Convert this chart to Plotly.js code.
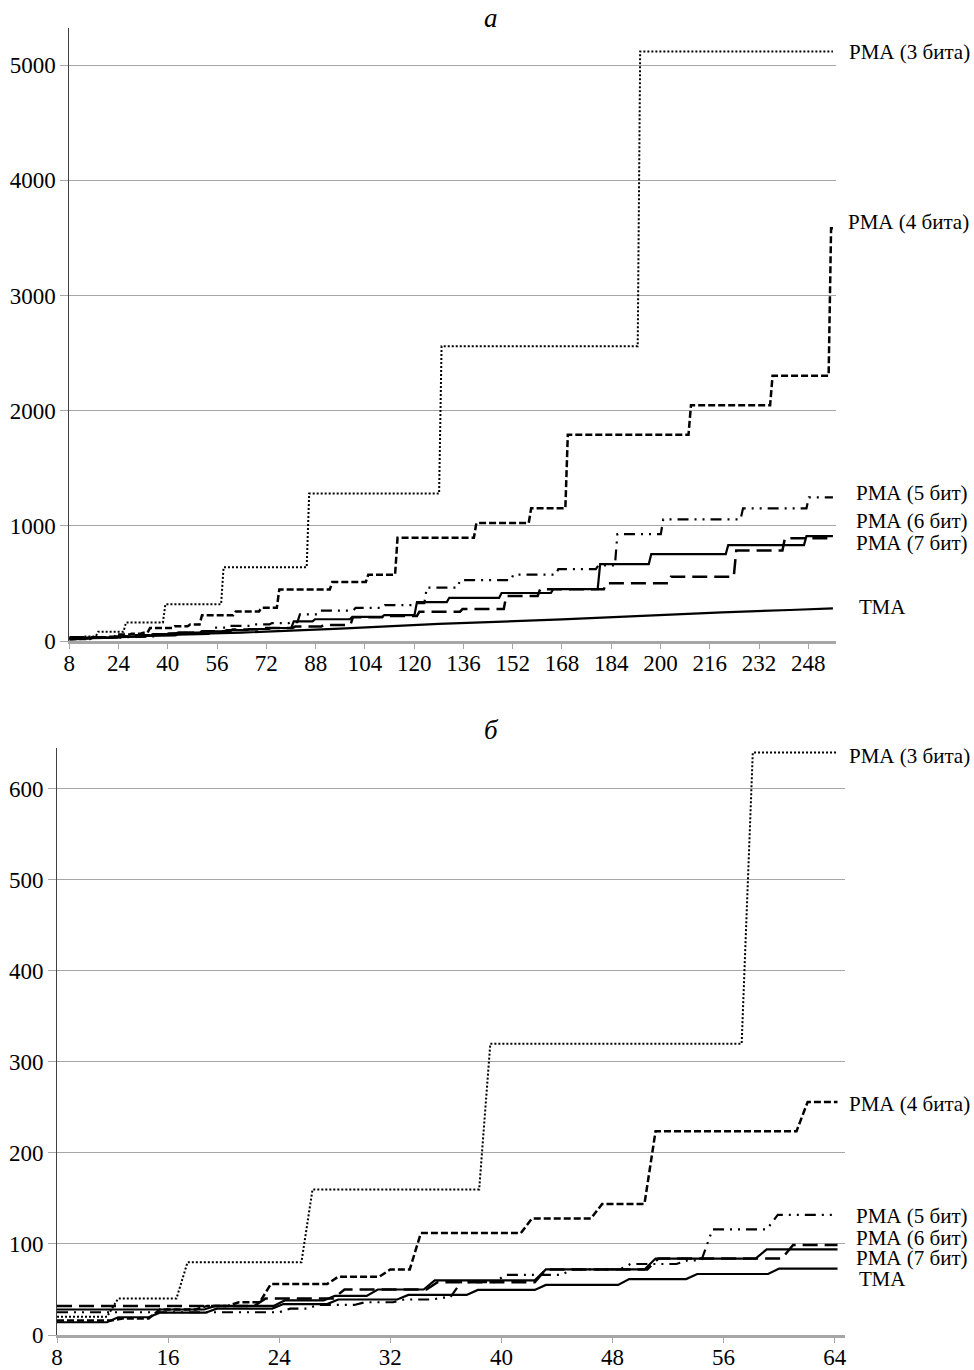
<!DOCTYPE html>
<html><head><meta charset="utf-8">
<script src="https://cdn.plot.ly/plotly-3.0.1.min.js"></script>
<style>body{margin:0;background:#fff}#chart{width:974px;height:1370px}</style>
</head><body><div id="chart"></div>
<script>
// ---- data (levels of each step and the x where the step rises) ----
const pma3Levels = [20, 40, 80, 160, 320, 640, 1280, 2560, 5120];
const pma3Rises  = [12, 17, 26, 38.8, 57.7, 85.5, 128.5, 193];

const pma4Levels = [16, 18, 28, 32, 36, 56, 64, 72, 112, 128, 144, 224, 256, 288, 448, 512, 576, 896, 1024, 1152, 1792, 2048, 2304, 3584];
const pma4Rises  = [12.3, 15, 18.4, 20.7, 23, 27.85, 31.6, 33.8, 41.8, 46.85, 50.7, 61.65, 70, 75.8, 93, 104.7, 114.2, 139.8, 157.6, 169.5, 209.5, 236, 255];

const pma5Levels = [25, 29, 33, 36, 39, 41, 58, 66, 72, 78, 82, 116, 132, 144, 156, 164, 232, 264, 288, 312, 328, 464, 528, 576, 624, 656, 928, 1056, 1152, 1248];
const pma5Rises  = [24.4, 26.4, 29.8, 32.6, 35.4, 36.7, 39.9, 44.7, 48.9, 53, 54.8, 59.5, 67.1, 73.4, 79.7, 82.5, 89.1, 100.6, 110.1, 119.6, 123.7, 134.5, 151.8, 166.4, 179.4, 185.6, 200.5, 226.4, 247.8];

const pma6Levels = [32, 40, 50, 58, 72, 84, 99, 112, 125, 139, 206, 218, 255, 277, 391, 449, 501, 559, 785, 893];
const pma6Rises  = [22.6, 28.3, 35, 42.8, 50.9, 60.6, 71, 80.9, 90.2, 99.7, 110, 121.3, 135.3, 149.5, 160.5, 182, 203, 224.2, 240];

const pma7Levels = [28, 32, 38, 43, 50, 60, 72, 84, 94, 104, 113, 170, 189, 210, 225, 338, 375, 417, 451, 668, 755, 833, 911];
const pma7Rises  = [19, 24, 27.6, 30.7, 34.8, 42.8, 50.7, 58.7, 66, 73.2, 80.5, 87.4, 99.5, 109.9, 120.5, 131, 148, 164.8, 180, 196.6, 221.6, 247];

const tmaLevels = [14, 19.5, 24.5, 29, 34, 39, 44, 49.5, 55, 61.5, 67, 73];
const tmaRises  = [12, 15, 19.1, 23.9, 27.85, 32.9, 37.9, 42.8, 48.8, 53.7, 59.6];
const tmaTailX  = [64, 96, 128, 168, 198, 220, 242, 256];
const tmaTailY  = [73, 108, 148, 188, 226, 249, 269, 284];

const topXTicks = [8, 24, 40, 56, 72, 88, 104, 120, 136, 152, 168, 184, 200, 216, 232, 248];
const botXTicks = [8, 16, 24, 32, 40, 48, 56, 64];
const topYTicks = [0, 1000, 2000, 3000, 4000, 5000];
const botYTicks = [0, 100, 200, 300, 400, 500, 600];

const labels = ['РМА (3 бита)', 'РМА (4 бита)', 'РМА (5 бит)', 'РМА (6 бит)', 'РМА (7 бит)', 'ТМА'];
const titles = ['а', 'б'];

// ---- helpers ----
const X0 = 8, XEND_TOP = 256, XEND_BOT = 64.2, RISE = 0.8;
function stepLine(levels, rises, xStart, xEnd, w) {
  const xs = [xStart], ys = [levels[0]];
  let last = levels[0];
  for (let i = 0; i < rises.length; i++) {
    const a = rises[i] - w / 2, b = rises[i] + w / 2;
    if (a >= xEnd) break;
    xs.push(a); ys.push(levels[i]);
    if (b >= xEnd) {
      const t = (xEnd - a) / (b - a);
      xs.push(xEnd); ys.push(levels[i] + t * (levels[i + 1] - levels[i]));
      return {x: xs, y: ys};
    }
    xs.push(b); ys.push(levels[i + 1]); last = levels[i + 1];
  }
  xs.push(xEnd); ys.push(last);
  return {x: xs, y: ys};
}

const styles = {
  pma3: {color: '#000', width: 2, dash: '2px,2px'},
  pma4: {color: '#000', width: 2.5, dash: '7px,3px'},
  pma5: {color: '#000', width: 2.2, dash: '11px,6px,2px,6px,2px,6px'},
  pma6: {color: '#000', width: 2.5, dash: '15px,7px'},
  pma7: {color: '#000', width: 2.2, dash: 'solid'},
  tma:  {color: '#000', width: 2.2, dash: 'solid'}
};

const series = [
  ['pma3', pma3Levels, pma3Rises],
  ['pma4', pma4Levels, pma4Rises],
  ['pma5', pma5Levels, pma5Rises],
  ['pma6', pma6Levels, pma6Rises],
  ['pma7', pma7Levels, pma7Rises],
  ['tma', tmaLevels, tmaRises]
];

const traces = [];
series.forEach(([key, lv, rs]) => {
  let top;
  if (key === 'tma') {
    top = stepLine(lv, rs, X0, tmaTailX[0], RISE);
    top.x = top.x.concat(tmaTailX.slice(1));
    top.y = top.y.concat(tmaTailY.slice(1));
  } else {
    top = stepLine(lv, rs, X0, XEND_TOP, RISE);
  }
  traces.push({x: top.x, y: top.y, xaxis: 'x', yaxis: 'y', mode: 'lines', line: styles[key], hoverinfo: 'skip'});
  const bot = stepLine(lv, rs, X0, XEND_BOT, RISE);
  traces.push({x: bot.x, y: bot.y, xaxis: 'x2', yaxis: 'y2', mode: 'lines', line: styles[key], hoverinfo: 'skip'});
});

// ---- layout ----
const FONT = '"Liberation Serif", "Times New Roman", serif';
const L = 57, R = 129, T = 28, B = 35, W = 974, H = 1370;
const PW = W - L - R, PH = H - T - B;
const px2x = p => (p - L) / PW;
const px2y = p => (H - B - p) / PH;

const yStyle = {
  showline: true, linecolor: '#404040', linewidth: 1,
  showgrid: true, gridcolor: '#a6a6a6', gridwidth: 1,
  zeroline: false, ticks: 'outside', ticklen: 8, tickcolor: '#a6a6a6', tickwidth: 1,
  tickfont: {family: FONT, size: 23, color: '#000'}, fixedrange: true
};
const xStyle = {
  showline: true, linecolor: '#a6a6a6', linewidth: 3,
  showgrid: false, zeroline: false, ticks: 'outside', ticklen: 5, tickcolor: '#a6a6a6', tickwidth: 1,
  ticklabelstandoff: -6,
  tickfont: {family: FONT, size: 23, color: '#000'}, fixedrange: true
};

const layout = {
  width: W, height: H, autosize: false,
  margin: {l: L, r: R, t: T, b: B, pad: 0},
  paper_bgcolor: '#fff', plot_bgcolor: '#fff',
  showlegend: false,
  font: {family: FONT, color: '#000'},
  xaxis: Object.assign({}, xStyle, {domain: [px2x(69.3), px2x(835.7)], range: [8, 256.9], tickmode: 'array', tickvals: topXTicks, ticktext: topXTicks.map(String), anchor: 'y'}),
  yaxis: Object.assign({}, yStyle, {domain: [px2y(641), 1], range: [0, 5323], tickmode: 'array', tickvals: topYTicks, ticktext: topYTicks.map(String), anchor: 'x'}),
  xaxis2: Object.assign({}, xStyle, {domain: [0, 1], range: [8, 64.74], tickmode: 'array', tickvals: botXTicks, ticktext: botXTicks.map(String), anchor: 'y2'}),
  yaxis2: Object.assign({}, yStyle, {domain: [0, px2y(748)], range: [0, 645], tickmode: 'array', tickvals: botYTicks, ticktext: botYTicks.map(String), anchor: 'x2'}),
  annotations: []
};

const labelPos = [
  [848, 52], [847, 222], [855, 493], [855, 521], [855, 543], [858, 607],
  [848, 756], [848, 1104], [855, 1216], [855, 1238], [855, 1258], [858, 1279]
];
labelPos.forEach((p, i) => {
  layout.annotations.push({
    xref: 'paper', yref: 'paper', x: px2x(p[0]), y: px2y(p[1]),
    xanchor: 'left', yanchor: 'middle', showarrow: false, borderpad: 0,
    text: labels[i % 6], font: {family: FONT, size: 21, color: '#000'}
  });
});
[[491, 18], [491, 730]].forEach((p, i) => {
  layout.annotations.push({
    xref: 'paper', yref: 'paper', x: px2x(p[0]), y: px2y(p[1]),
    xanchor: 'center', yanchor: 'middle', showarrow: false,
    text: '<i>' + titles[i] + '</i>', font: {family: FONT, size: 27, color: '#000'}
  });
});

Plotly.newPlot('chart', traces, layout, {staticPlot: true, displayModeBar: false});
</script></body></html>
